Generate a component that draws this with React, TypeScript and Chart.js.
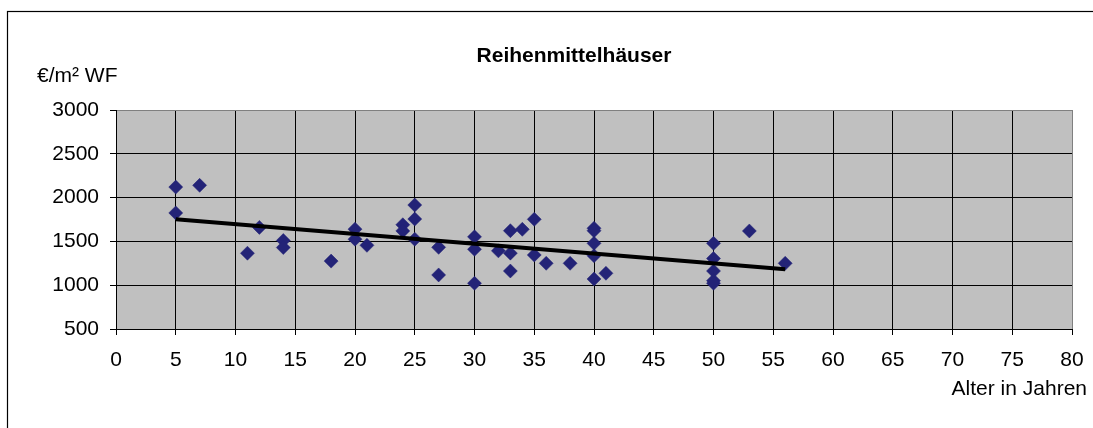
import React, { useEffect, useRef } from "react";
import { Chart, registerables } from "chart.js";

Chart.register(...registerables);

const chartTitle = "Reihenmittelhäuser";
const yAxisTitle = "€/m² WF";
const xAxisTitle = "Alter in Jahren";

const ageX = [5, 5, 7, 11, 12, 14, 14, 18, 20, 20, 21, 24, 24, 25, 25, 25, 27, 27, 30, 30, 30, 32, 33, 33, 33, 34, 35, 35, 36, 38, 40, 40, 40, 40, 40, 41, 50, 50, 50, 50, 50, 53, 56];
const priceY = [2120, 1825, 2140, 1365, 1660, 1510, 1430, 1275, 1640, 1525, 1455, 1690, 1620, 1915, 1755, 1525, 1432, 1117, 1552, 1410, 1022, 1392, 1622, 1366, 1162, 1638, 1752, 1345, 1250, 1250, 1650, 1622, 1478, 1337, 1071, 1136, 1478, 1305, 1162, 1052, 1022, 1619, 1250];

const trendX = [5, 56];
const trendY = [1752, 1183];

const xMin = 0, xMax = 80, xStep = 5;
const yMin = 500, yMax = 3000, yStep = 500;

const FONT = "'Liberation Sans', Arial, sans-serif";

export default function App() {
  const ref = useRef<HTMLCanvasElement>(null);
  useEffect(() => {
    if (!ref.current) return;
    const decor = {
      id: "decor",
      beforeDraw(chart: any) {
        const { ctx, chartArea } = chart;
        ctx.save();
        ctx.fillStyle = "#ffffff";
        ctx.fillRect(0, 0, chart.width, chart.height);
        ctx.strokeStyle = "#000000";
        ctx.lineWidth = 1.2;
        ctx.strokeRect(7.5, 11.5, 3000, 3000);
        ctx.fillStyle = "#c0c0c0";
        ctx.fillRect(chartArea.left, chartArea.top, chartArea.right - chartArea.left, chartArea.bottom - chartArea.top);
        ctx.restore();
      },
      afterDraw(chart: any) {
        const { ctx } = chart;
        ctx.save();
        ctx.fillStyle = "#000000";
        ctx.textBaseline = "alphabetic";
        ctx.font = `bold 21px ${FONT}`;
        ctx.textAlign = "center";
        ctx.fillText(chartTitle, 574, 61.5);
        ctx.font = `21px ${FONT}`;
        ctx.textAlign = "left";
        ctx.fillText(yAxisTitle, 37, 82);
        ctx.textAlign = "right";
        ctx.fillText(xAxisTitle, 1087, 395);
        ctx.restore();
      },
    };
    const chart = new Chart(ref.current, {
      type: "scatter",
      data: {
        datasets: [
          {
            label: "Daten",
            data: ageX.map((x, i) => ({ x, y: priceY[i] })),
            pointStyle: "rectRot",
            pointRadius: 7,
            pointBackgroundColor: "#232377",
            pointBorderColor: "#232377",
            pointBorderWidth: 0.5,
            showLine: false,
            order: 2,
          },
          {
            label: "Trend",
            type: "line",
            data: trendX.map((x, i) => ({ x, y: trendY[i] })),
            borderColor: "#000000",
            borderWidth: 4,
            pointRadius: 0,
            showLine: true,
            fill: false,
            order: 1,
          } as any,
        ],
      },
      plugins: [decor],
      options: {
        responsive: false,
        animation: false,
        devicePixelRatio: 1,
        layout: { padding: { top: 110, right: 21, bottom: 59, left: 0 } },
        plugins: { legend: { display: false }, tooltip: { enabled: false }, title: { display: false } },
        scales: {
          x: {
            type: "linear",
            min: xMin,
            max: xMax,
            ticks: { stepSize: xStep, font: { family: FONT, size: 21 }, color: "#000000", padding: 13, maxRotation: 0, callback: (v: any) => String(v) },
            grid: {
              color: (c: any) => (c.tick && c.tick.value === xMax ? "#808080" : "#000000"),
              lineWidth: 1,
              tickLength: 6,
              tickColor: "#000000",
            },
            border: { display: true, color: "#000000", width: 1 },
            afterFit: (s: any) => { s.height = 40; s.paddingLeft = 0; s.paddingRight = 0; },
          },
          y: {
            type: "linear",
            min: yMin,
            max: yMax,
            ticks: { stepSize: yStep, font: { family: FONT, size: 21 }, color: "#000000", padding: 11, callback: (v: any) => String(v) },
            grid: {
              color: (c: any) => (c.tick && c.tick.value === yMax ? "#808080" : "#000000"),
              lineWidth: 1,
              tickLength: 6,
              tickColor: "#000000",
            },
            border: { display: true, color: "#000000", width: 1 },
            afterFit: (s: any) => { s.width = 116; s.paddingTop = 0; s.paddingBottom = 0; },
          },
        },
      },
    });
    return () => chart.destroy();
  }, []);
  return (
    <div style={{ position: "fixed", left: 0, top: 0, width: 1093, height: 428, background: "#fff" }}>
      <canvas ref={ref} width={1093} height={428} style={{ width: 1093, height: 428, display: "block" }} />
    </div>
  );
}
